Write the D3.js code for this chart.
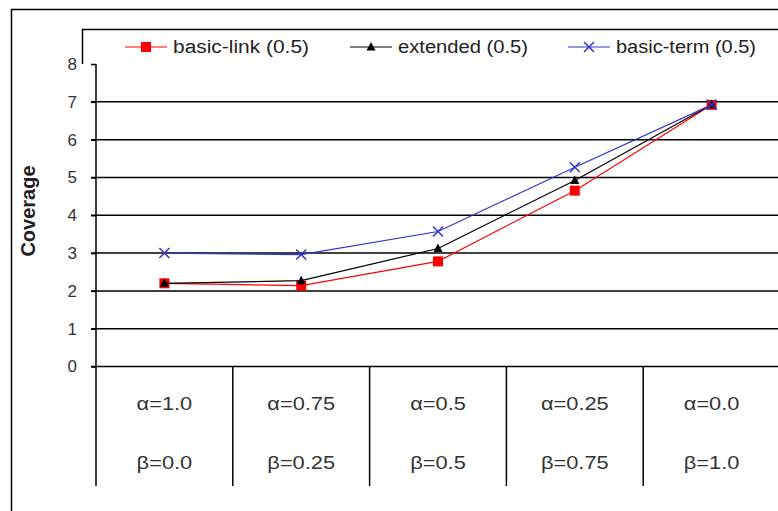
<!DOCTYPE html>
<html>
<head>
<meta charset="utf-8">
<script src="https://cdn.jsdelivr.net/npm/d3@7"></script>
<style>
  body { margin: 0; background: #fff; }
  svg { display: block; font-family: "Liberation Sans", Arial, sans-serif; }
</style>
</head>
<body>
<svg id="chart"></svg>
<script>
// chart data
const alphaLabels = ["α=1.0", "α=0.75", "α=0.5", "α=0.25", "α=0.0"]
const betaLabels = ["β=0.0", "β=0.25", "β=0.5", "β=0.75", "β=1.0"]
const basicLink = [2.2, 2.14, 2.78, 4.65, 6.92]
const extended = [2.2, 2.27, 3.12, 4.92, 6.92]
const basicTerm = [3.0, 2.96, 3.57, 5.27, 6.92]
const yTicks = [0, 1, 2, 3, 4, 5, 6, 7, 8]

const series = [
  { name: "basic-link (0.5)", values: basicLink, color: "#ff0000", marker: "square" },
  { name: "extended (0.5)", values: extended, color: "#000000", marker: "triangle" },
  { name: "basic-term (0.5)", values: basicTerm, color: "#3333cc", marker: "cross" },
]

const width = 778
const height = 511
const margin = { left: 96, top: 64, right: -2, bottom: 144.5 }

const svg = d3.select("#chart").attr("width", width).attr("height", height)

const x = d3
  .scaleBand()
  .domain(d3.range(alphaLabels.length))
  .range([margin.left, width - margin.right])

const y = d3
  .scaleLinear()
  .domain([0, 8])
  .range([height - margin.bottom, margin.top])

// outer frame
svg
  .append("path")
  .attr("d", `M11.5,${height + 2}V9.5H${width + 2}`)
  .attr("fill", "none")
  .attr("stroke", "#000")
  .attr("stroke-width", 1.5)

// grid lines
svg
  .append("g")
  .selectAll("line")
  .data(yTicks.filter((d) => d < 8))
  .join("line")
  .attr("x1", margin.left - 5)
  .attr("x2", width + 2)
  .attr("y1", (d) => y(d))
  .attr("y2", (d) => y(d))
  .attr("stroke", "#000")
  .attr("stroke-width", 1.5)

// y axis
const yAxis = svg
  .append("g")
  .attr("transform", `translate(${margin.left},0)`)
  .call(d3.axisLeft(y).tickValues(yTicks).tickSize(5).tickPadding(14))
yAxis.select(".domain").remove()
yAxis.selectAll(".tick line").attr("stroke", "#000").attr("stroke-width", 1.5)
yAxis
  .selectAll(".tick text")
  .attr("font-size", 17)
  .attr("fill", "#333")
  .attr("font-family", "Liberation Sans, Arial, sans-serif")

const tableBottom = 486

svg
  .append("line")
  .attr("x1", margin.left)
  .attr("x2", margin.left)
  .attr("y1", margin.top)
  .attr("y2", tableBottom)
  .attr("stroke", "#000")
  .attr("stroke-width", 1.5)

// category table dividers
svg
  .append("g")
  .selectAll("line")
  .data(d3.range(1, alphaLabels.length))
  .join("line")
  .attr("x1", (d) => x(d))
  .attr("x2", (d) => x(d))
  .attr("y1", y(0))
  .attr("y2", tableBottom)
  .attr("stroke", "#000")
  .attr("stroke-width", 1.5)

const cats = svg
  .append("g")
  .selectAll("g")
  .data(alphaLabels)
  .join("g")
  .attr("transform", (d, i) => `translate(${x(i) + x.bandwidth() / 2},0)`)

cats
  .append("text")
  .attr("y", 410)
  .attr("text-anchor", "middle")
  .attr("font-size", 18.5)
  .attr("fill", "#333")
  .attr("transform", "scale(1.18,1)")
  .text((d) => d)

cats
  .append("text")
  .attr("y", 469)
  .attr("text-anchor", "middle")
  .attr("font-size", 18.5)
  .attr("fill", "#333")
  .attr("transform", "scale(1.18,1)")
  .text((d, i) => betaLabels[i])

// y title
svg
  .append("text")
  .attr("transform", `translate(35,211) rotate(-90)`)
  .attr("text-anchor", "middle")
  .attr("font-size", 20)
  .attr("font-weight", "bold")
  .attr("fill", "#222")
  .text("Coverage")

// lines and markers
const line = d3
  .line()
  .x((d, i) => x(i) + x.bandwidth() / 2)
  .y((d) => y(d))

function drawMarker(g, type, color) {
  if (type === "square") {
    g.append("rect").attr("x", -5).attr("y", -5).attr("width", 10).attr("height", 10).attr("fill", color)
  } else if (type === "triangle") {
    g.append("path").attr("d", "M0,-5L4.5,3.5H-4.5Z").attr("fill", color)
  } else {
    g.append("path")
      .attr("d", "M-5,-5L5,5M-5,5L5,-5")
      .attr("stroke", color)
      .attr("stroke-width", 1.5)
      .attr("fill", "none")
  }
}

series.forEach((s) => {
  svg
    .append("path")
    .datum(s.values)
    .attr("d", line)
    .attr("fill", "none")
    .attr("stroke", s.color)
    .attr("stroke-width", 1.2)

  s.values.forEach((v, i) => {
    const g = svg.append("g").attr("transform", `translate(${x(i) + x.bandwidth() / 2},${y(v)})`)
    drawMarker(g, s.marker, s.color)
  })
})

// legend
svg
  .append("path")
  .attr("d", `M${width + 2},29.5H82.5V${margin.top}`)
  .attr("fill", "none")
  .attr("stroke", "#000")
  .attr("stroke-width", 1.5)

const legendX = [125, 350, 568]
const legend = svg
  .append("g")
  .selectAll("g")
  .data(series)
  .join("g")
  .attr("transform", (d, i) => `translate(${legendX[i]},47)`)

legend
  .append("line")
  .attr("x1", 0)
  .attr("x2", 42)
  .attr("stroke", (d) => d.color)
  .attr("stroke-width", 1.2)

legend.each(function (d) {
  const g = d3.select(this).append("g").attr("transform", "translate(21,0)")
  drawMarker(g, d.marker, d.color)
})

legend
  .append("text")
  .attr("x", 48)
  .attr("y", 6)
  .attr("font-size", 18)
  .attr("fill", "#222")
  .attr("textLength", (d, i) => [136, 130, 140][i])
  .attr("lengthAdjust", "spacingAndGlyphs")
  .text((d) => d.name)
</script>
</body>
</html>
